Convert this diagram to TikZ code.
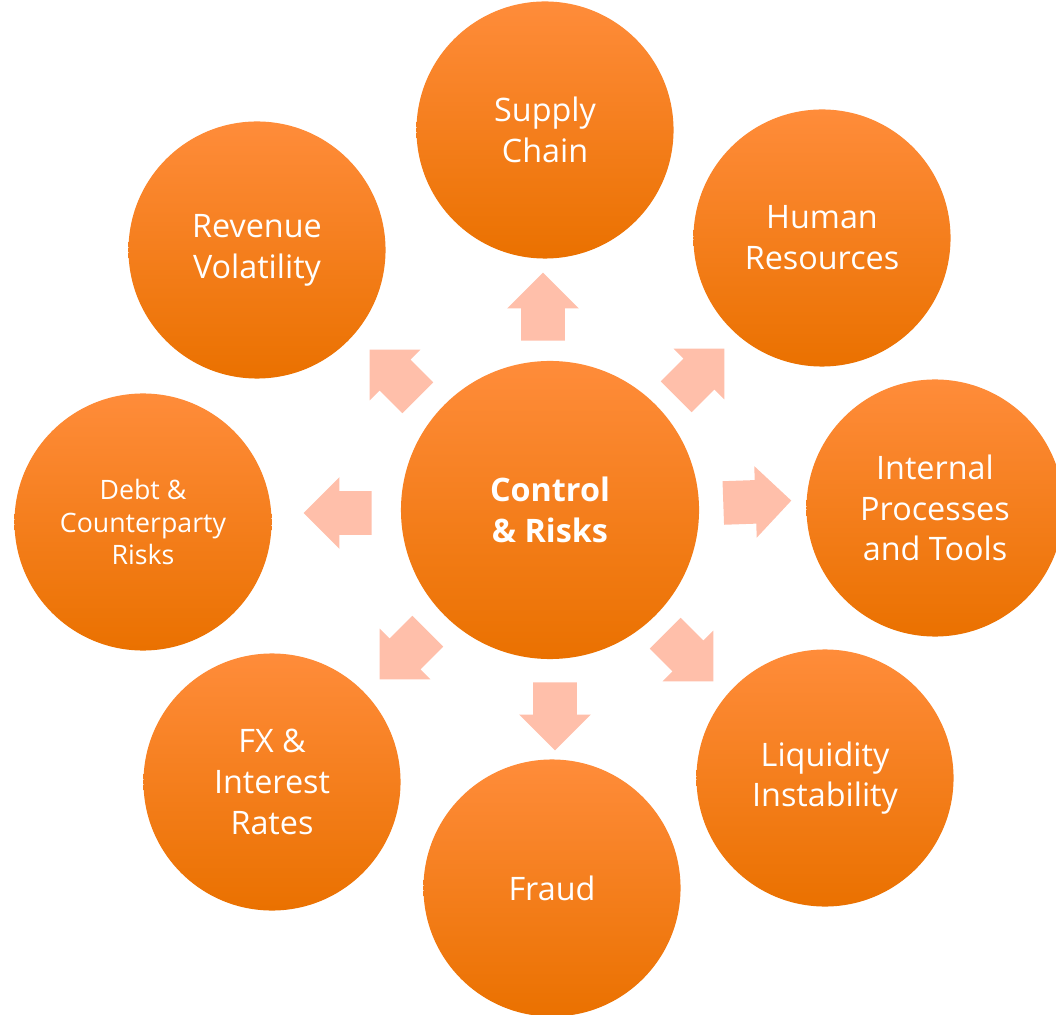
\documentclass[tikz,border=0pt]{standalone}
\usepackage{fontspec}
\setmainfont{Open Sans}
\usetikzlibrary{shapes.arrows}
\definecolor{ringtop}{RGB}{255,140,58}
\definecolor{ringmid}{RGB}{255,128,0}
\definecolor{ringbot}{RGB}{234,113,0}
\definecolor{arrowfill}{RGB}{255,191,170}
\tikzset{
  riskcircle/.style={circle, minimum size=6.425cm, inner sep=0pt, align=center,
    top color=ringtop, middle color=ringmid, bottom color=ringbot, text=white,
    font=\fontsize{23}{29}\selectfont},
  corecircle/.style={riskcircle, minimum size=7.45cm, font=\fontsize{23}{29}\selectfont\bfseries},
  riskarrow/.style={single arrow, fill=arrowfill, draw=none, anchor=tail,
    minimum height=1.7cm, inner xsep=0pt, inner ysep=0.5375cm,
    single arrow head extend=0.35cm}
}
\begin{document}
\begin{tikzpicture}[x=0.025cm,y=0.025cm]
  \useasboundingbox (0,0) rectangle (1056,1014);
  \clip (0,0) rectangle (1056,1014);
  \node[corecircle] (core) at (550,504) {Control\\\& Risks};
  \node[riskcircle] (supply) at (545,884) {Supply\\Chain};
  \node[riskcircle] (hr) at (822,776) {Human\\Resources};
  \node[riskcircle] (internal) at (935,506) {Internal\\Processes\\and Tools};
  \node[riskcircle] (liquidity) at (825,236) {Liquidity\\Instability};
  \node[riskcircle] (fraud) at (552,126) {Fraud};
  \node[riskcircle] (fx) at (272,232) {FX \&\\Interest\\Rates};
  \node[riskcircle, font=\fontsize{19}{23}\selectfont] (debt) at (143,492) {Debt \&\\Counterparty\\Risks};
  \node[riskcircle] (revenue) at (257,764) {Revenue\\Volatility};
  \node[riskarrow, rotate=90] (toSupply) at ([shift={(-7,169)}]core.center) {};
  \node[riskarrow, rotate=45] (toHr) at ([shift={(126,113)}]core.center) {};
  \node[riskarrow, rotate=2] (toInternal) at ([shift={(173,7)}]core.center) {};
  \node[riskarrow, rotate=-45] (toLiquidity) at ([shift={(115,-123)}]core.center) {};
  \node[riskarrow, rotate=-90] (toFraud) at ([shift={(5,-172)}]core.center) {};
  \node[riskarrow, rotate=-135] (toFx) at ([shift={(-122,-121)}]core.center) {};
  \node[riskarrow, rotate=180] (toDebt) at ([shift={(-178,-3)}]core.center) {};
  \node[riskarrow, rotate=135] (toRevenue) at ([shift={(-132,112)}]core.center) {};
\end{tikzpicture}
\end{document}
